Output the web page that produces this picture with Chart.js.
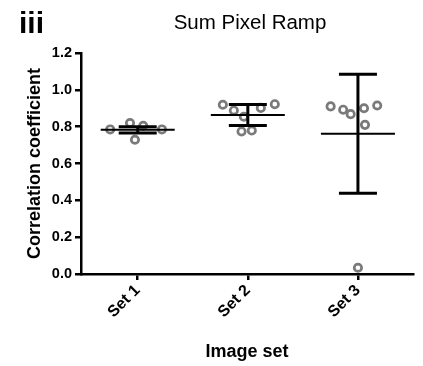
<!DOCTYPE html>
<html>
<head>
<meta charset="utf-8">
<script src="https://cdn.jsdelivr.net/npm/chart.js@4"></script>
<style>
html,body{margin:0;padding:0;background:#fff;}
#wrap{position:relative;width:423px;height:366px;}
</style>
</head>
<body>
<div id="wrap"><canvas id="c" width="423" height="366"></canvas></div>
<script>
// ---- data ----
const categories = ["Set 1", "Set 2", "Set 3"];
const set1Values = [0.785, 0.82, 0.805, 0.729, 0.785];
const set1Jitter = [-0.25, -0.07, 0.05, -0.025, 0.22];
const set2Values = [0.919, 0.888, 0.854, 0.902, 0.922, 0.774, 0.779];
const set2Jitter = [-0.227, -0.127, -0.036, 0.118, 0.245, -0.057, 0.036];
const set3Values = [0.91, 0.892, 0.868, 0.90, 0.915, 0.81, 0.034];
const set3Jitter = [-0.248, -0.134, -0.066, 0.055, 0.175, 0.064, 0.0];
const means = [0.783, 0.864, 0.762];
const sds = [0.017, 0.057, 0.323];
const yTicks = [0.0, 0.2, 0.4, 0.6, 0.8, 1.0, 1.2];

const allValues = [set1Values, set2Values, set3Values];
const allJitter = [set1Jitter, set2Jitter, set3Jitter];

const points = [];
allValues.forEach((vals, i) => {
  vals.forEach((v, j) => points.push({x: i + 1 + allJitter[i][j], y: v}));
});

const FONT = "'Liberation Sans', Arial, Helvetica, sans-serif";

const meanSdPlugin = {
  id: 'meanSd',
  afterDatasetsDraw(chart) {
    const ctx = chart.ctx;
    const xs = chart.scales.x, ys = chart.scales.y;
    ctx.save();
    ctx.strokeStyle = '#000';
    ctx.lineCap = 'butt';
    means.forEach((m, i) => {
      const cx = xs.getPixelForValue(i + 1);
      const ym = ys.getPixelForValue(m);
      const yt = ys.getPixelForValue(m + sds[i]);
      const yb = ys.getPixelForValue(m - sds[i]);
      ctx.lineWidth = 3;
      ctx.beginPath(); ctx.moveTo(cx, yt); ctx.lineTo(cx, yb); ctx.stroke();
      ctx.beginPath();
      ctx.moveTo(cx - 19, yt); ctx.lineTo(cx + 19, yt);
      ctx.moveTo(cx - 19, yb); ctx.lineTo(cx + 19, yb);
      ctx.stroke();
      ctx.lineWidth = 2;
      ctx.beginPath(); ctx.moveTo(cx - 37, ym); ctx.lineTo(cx + 37, ym); ctx.stroke();
    });
    ctx.restore();
  },
  afterDraw(chart) {
    const ctx = chart.ctx;
    ctx.save();
    ctx.fillStyle = '#000';
    ctx.textBaseline = 'alphabetic';
    ctx.font = "bold 30px " + FONT;
    ctx.textAlign = 'left';
    ctx.fillText('iii', 19, 33);
    ctx.font = "20.5px " + FONT;
    ctx.textAlign = 'center';
    ctx.fillText('Sum Pixel Ramp', 250, 29);
    ctx.restore();
  }
};

new Chart(document.getElementById('c'), {
  type: 'scatter',
  data: {
    datasets: [{
      data: points,
      pointStyle: 'circle',
      pointRadius: 3.7,
      pointHoverRadius: 3.7,
      borderWidth: 2.7,
      borderColor: '#7a7a7a',
      backgroundColor: 'rgba(255,255,255,0)'
    }]
  },
  options: {
    responsive: false,
    animation: false,
    events: [],
    layout: { padding: { top: 53, right: 10, left: 0, bottom: 0 } },
    plugins: { legend: { display: false }, tooltip: { enabled: false }, title: { display: false } },
    scales: {
      x: {
        type: 'linear',
        min: 0.485,
        max: 3.5,
        afterBuildTicks(scale) { scale.ticks = categories.map((c, i) => ({ value: i + 1 })); },
        afterFit(scale) { scale.height = 92; },
        border: { display: true, color: '#000', width: 2.5 },
        grid: { display: true, drawOnChartArea: false, drawTicks: true, tickLength: 6, color: '#000', lineWidth: 2.5 },
        ticks: {
          autoSkip: false,
          maxRotation: 45,
          minRotation: 45,
          padding: 1,
          color: '#000',
          font: { family: FONT, size: 16, weight: 'bold' },
          callback: (v) => categories[Math.round(v) - 1]
        },
        title: {
          display: true,
          text: 'Image set',
          color: '#000',
          font: { family: FONT, size: 18, weight: 'bold' },
          padding: { top: 0, bottom: 3 }
        }
      },
      y: {
        min: 0,
        max: 1.2,
        afterBuildTicks(scale) { scale.ticks = yTicks.map(v => ({ value: v })); },
        afterFit(scale) { scale.width = 81; },
        border: { display: true, color: '#000', width: 2.5 },
        grid: { display: true, drawOnChartArea: false, drawTicks: true, tickLength: 6, color: '#000', lineWidth: 2.5 },
        ticks: {
          padding: 3,
          color: '#000',
          font: { family: FONT, size: 14.5, weight: 'bold' },
          callback: (v) => v.toFixed(1)
        },
        title: {
          display: true,
          text: 'Correlation coefficient',
          color: '#000',
          font: { family: FONT, size: 18, weight: 'bold' },
          padding: { top: 24, bottom: 0 }
        }
      }
    }
  },
  plugins: [meanSdPlugin]
});
</script>
</body>
</html>
